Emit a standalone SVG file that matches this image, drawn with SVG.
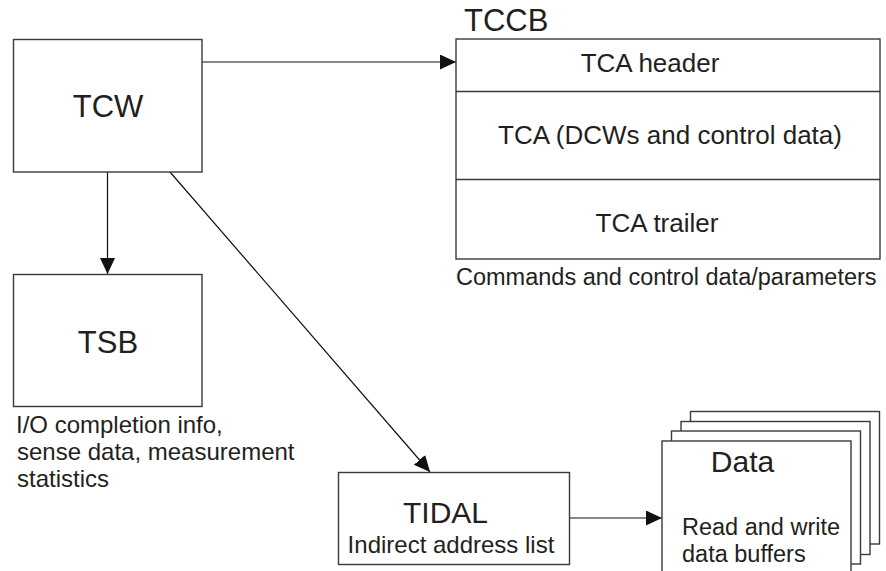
<svg xmlns="http://www.w3.org/2000/svg" width="886" height="571" viewBox="0 0 886 571">
<style>
.box{fill:#fff;stroke:#3a3a3a;stroke-width:1.4}
.t{font-family:"Liberation Sans",Arial,sans-serif;fill:#231f20}
.c{stroke:#111;stroke-width:1.2;fill:none}
</style>
<defs>
<marker id="ah" markerUnits="userSpaceOnUse" markerWidth="16" markerHeight="16" refX="16" refY="7.5" orient="auto">
<path d="M0,0 L16,7.5 L0,15 z" fill="#111"/>
</marker>
</defs>
<rect width="886" height="571" fill="#fff"/>
<g id="connectors">
<line class="c" x1="202" y1="62" x2="456" y2="62" marker-end="url(#ah)"/>
<line class="c" x1="107.5" y1="172" x2="107.5" y2="274" marker-end="url(#ah)"/>
<line class="c" x1="170" y1="172" x2="430" y2="472" marker-end="url(#ah)"/>
<line class="c" x1="569" y1="518" x2="662" y2="518" marker-end="url(#ah)"/>
</g>
<g id="tcw">
<rect class="box" x="13.5" y="39.5" width="188.5" height="132.5"/>
<text class="t" x="108" y="117" font-size="31" text-anchor="middle">TCW</text>
</g>
<g id="tccb">
<text class="t" x="464" y="31" font-size="31">TCCB</text>
<rect class="box" x="456" y="39" width="424" height="220"/>
<line class="box" x1="456" y1="91.5" x2="880" y2="91.5"/>
<line class="box" x1="456" y1="179.5" x2="880" y2="179.5"/>
<text class="t" x="650" y="72" font-size="26" text-anchor="middle">TCA header</text>
<text class="t" x="670" y="144" font-size="26" text-anchor="middle">TCA (DCWs and control data)</text>
<text class="t" x="657" y="232" font-size="26" text-anchor="middle">TCA trailer</text>
<text class="t" x="456" y="285" font-size="23.5">Commands and control data/parameters</text>
</g>
<g id="tsb">
<rect class="box" x="13.5" y="274.5" width="188.5" height="132"/>
<text class="t" x="108" y="353" font-size="31" text-anchor="middle">TSB</text>
<text class="t" x="16" y="433" font-size="24">I/O completion info,</text>
<text class="t" x="17" y="460" font-size="24">sense data, measurement</text>
<text class="t" x="17" y="487" font-size="24">statistics</text>
</g>
<g id="tidal">
<rect class="box" x="338.5" y="472.5" width="231" height="92"/>
<text class="t" x="445.5" y="523" font-size="30" text-anchor="middle">TIDAL</text>
<text class="t" x="451" y="553" font-size="24" text-anchor="middle">Indirect address list</text>
</g>
<g id="data">
<rect class="box" x="690.5" y="411.5" width="189" height="132.5"/>
<rect class="box" x="681" y="421.5" width="189" height="133"/>
<rect class="box" x="671.5" y="431" width="189" height="133"/>
<rect class="box" x="662" y="441" width="189" height="133"/>
<text class="t" x="742.5" y="471.5" font-size="30" text-anchor="middle">Data</text>
<text class="t" x="682" y="535" font-size="23.5">Read and write</text>
<text class="t" x="682" y="562" font-size="23.5">data buffers</text>
</g>
</svg>
